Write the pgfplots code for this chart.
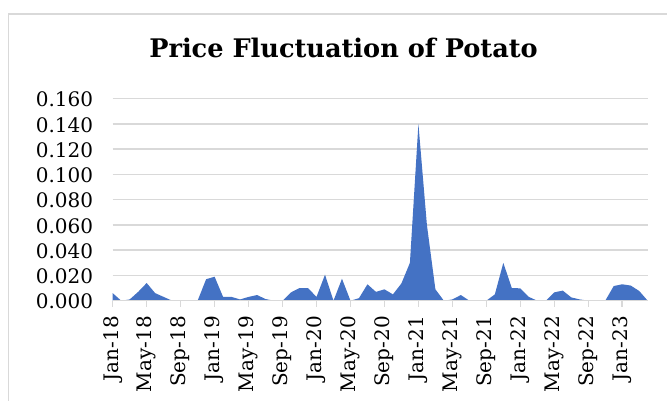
\documentclass[border=0pt]{standalone}
\usepackage{fontspec}
\setmainfont{DejaVu Serif}
\usepackage{pgfplots}
\pgfplotsset{compat=1.18}
\usepackage{pgfplotstable}
\definecolor{areablue}{HTML}{4472C4}
\definecolor{gridgray}{HTML}{D9D9D9}
\pgfplotstableread{
m v
0 0.006
1 0.000
2 0.001
3 0.007
4 0.014
5 0.006
6 0.003
7 0.000
8 0.000
9 0.000
10 0.000
11 0.017
12 0.019
13 0.003
14 0.003
15 0.001
16 0.003
17 0.0045
18 0.0013
19 0.000
20 0.000
21 0.0066
22 0.010
23 0.010
24 0.003
25 0.0206
26 0.000
27 0.0174
28 0.000
29 0.002
30 0.013
31 0.007
32 0.009
33 0.005
34 0.0137
35 0.030
36 0.140
37 0.060
38 0.009
39 0.000
40 0.001
41 0.0045
42 0.000
43 0.000
44 0.000
45 0.005
46 0.030
47 0.010
48 0.0098
49 0.003
50 0.000
51 0.000
52 0.0066
53 0.008
54 0.0026
55 0.001
56 0.000
57 0.000
58 0.000
59 0.0116
60 0.013
61 0.012
62 0.0077
63 0.000
}\potato
\begin{document}
\begin{tikzpicture}[x=1pt,y=1pt]
\draw[gridgray, line width=1.8pt] (8.5,-20) rectangle (690,387);
\node[anchor=base, font=\fontsize{25.6}{30}\selectfont\bfseries] at (343.5,343) {Price Fluctuation of Potato};
\begin{axis}[
  at={(112.7pt,100.3pt)}, anchor=south west,
  scale only axis, width=535pt, height=202pt,
  xmin=0, xmax=63, ymin=0, ymax=0.16,
  axis line style={draw=none},
  ytick={0,0.02,...,0.16},
  xtick={0,4,...,60},
  xticklabels={Jan-18,May-18,Sep-18,Jan-19,May-19,Sep-19,Jan-20,May-20,Sep-20,Jan-21,May-21,Sep-21,Jan-22,May-22,Sep-22,Jan-23},
  ymajorgrids, grid style={gridgray, line width=1.5pt},
  major tick length=0pt, tick style={draw=none},
  /pgf/number format/.cd, fixed, fixed zerofill, precision=3, assume math mode=true, /pgfplots/.cd,
  yticklabel style={font=\fontsize{20}{22}\selectfont, anchor=east, xshift=-16pt, yshift=-1pt},
  xticklabel style={font=\fontsize{20}{22}\selectfont, rotate=90, anchor=east, xshift=-12pt},
  clip=false,
]
\addplot[draw=none, fill=areablue] table[x=m, y=v] {\potato} \closedcycle;
\draw[gridgray, line width=1.5pt] (axis cs:0,0) -- (axis cs:63,0);
\pgfplotsinvokeforeach{0,4,...,60}{\draw[gridgray, line width=1.5pt] (axis cs:#1,0) -- ++(0,-6pt);}
\end{axis}
\pgfresetboundingbox
\useasboundingbox (0,0) rectangle (667,401);
\end{tikzpicture}
\end{document}
